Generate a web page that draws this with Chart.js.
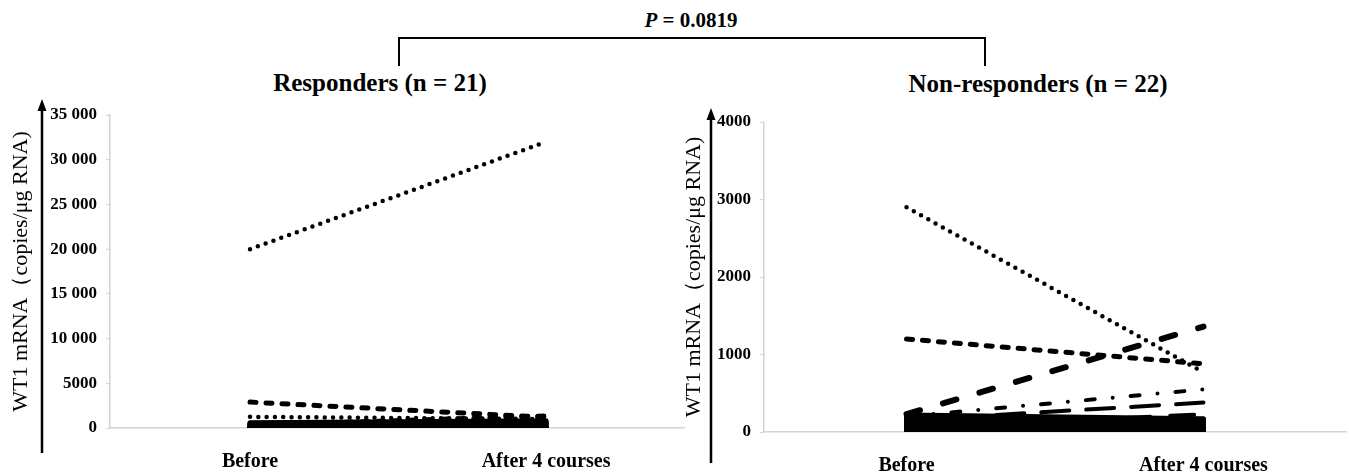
<!DOCTYPE html>
<html>
<head>
<meta charset="utf-8">
<script src="https://cdn.jsdelivr.net/npm/chart.js@4.4.1/dist/chart.umd.min.js"></script>
<style>
  html, body { margin: 0; padding: 0; background: #fff; }
  body { width: 1349px; height: 474px; position: relative; overflow: hidden; font-family: "Liberation Serif", "Times New Roman", serif; }
  canvas { position: absolute; top: 0; }
  #leftChart { left: 0; }
  #rightChart { left: 670px; }
  .title { position: absolute; font-weight: bold; font-size: 25px; white-space: nowrap; transform: translate(-50%, -50%); color: #000; }
  #bracket { position: absolute; left: 398px; top: 37px; width: 584px; height: 27px; border: 2px solid #000; border-bottom: none; }
  #pval { position: absolute; left: 691px; top: 20px; font-weight: bold; font-size: 21px; white-space: nowrap; transform: translate(-50%, -50%); }
</style>
</head>
<body>
<div id="pval"><i>P</i> = 0.0819</div>
<div id="bracket"></div>
<div class="title" style="left:380px; top:83px;">Responders (n = 21)</div>
<div class="title" style="left:1038px; top:84px;">Non-responders (n = 22)</div>
<canvas id="leftChart" width="700" height="474"></canvas>
<canvas id="rightChart" width="679" height="474"></canvas>
<script>
// 时间点
const categories = ['Before', 'After 4 courses'];
const yTitle = 'WT1 mRNA（copies/μg RNA)';

// Responders (n = 21)
const respBefore = [20000, 2900, 1250, 300, 600, 500, 450, 400, 350, 300, 250, 200, 180, 150, 120, 100, 80, 60, 40, 20, 10];
const respAfter  = [32000, 1200, 1000, 1350, 800, 700, 650, 600, 500, 450, 400, 300, 250, 200, 150, 100, 80, 50, 30, 20, 10];
const respStyle  = ['dot', 'dash', 'dot', 'dash', 'solid', 'solid', 'solid', 'solid', 'solid', 'solid', 'solid', 'solid',
                    'solid', 'solid', 'solid', 'solid', 'solid', 'solid', 'solid', 'solid', 'solid'];
const respTicks = [0, 5000, 10000, 15000, 20000, 25000, 30000, 35000];

// Non-responders (n = 22)
const nonBefore = [2900, 1200, 230, 200, 150, 40, 220, 200, 180, 160, 150, 130, 120, 100, 90, 80, 60, 50, 40, 30, 20, 10];
const nonAfter  = [770, 880, 1360, 550, 380, 230, 170, 150, 140, 130, 120, 110, 100, 90, 80, 70, 60, 50, 40, 30, 20, 10];
const nonStyle  = ['dot', 'dash', 'longdash', 'dashdot', 'longdash2', 'shortdash', 'solid', 'solid', 'solid', 'solid', 'solid',
                   'solid', 'solid', 'solid', 'solid', 'solid', 'solid', 'solid', 'solid', 'solid', 'solid', 'solid'];
const nonTicks = [0, 1000, 2000, 3000, 4000];

// 线型
const lineStyles = {
  dot:       { width: 4.5, dash: [0, 8.3] },
  dash:      { width: 5, dash: [6, 10] },
  longdash:  { width: 6, dash: [14, 24] },
  dashdot:   { width: 4, dash: [9, 18, 0, 18] },
  longdash2: { width: 4, dash: [28, 17] },
  shortdash: { width: 4, dash: [24, 20] },
  solid:     { width: 5, dash: [] }
};

function buildDatasets(before, after, styles) {
  return before.map((b, i) => {
    const st = lineStyles[styles[i]];
    return {
      data: [{ x: 0, y: b }, { x: 1, y: after[i] }],
      borderColor: '#000',
      borderWidth: st.width,
      borderDash: st.dash,
      borderCapStyle: 'round',
      pointRadius: 0,
      fill: false
    };
  });
}

// 黑色箭头坐标轴
const arrowPlugin = {
  id: 'arrowAxis',
  afterDraw(chart, args, opts) {
    const ctx = chart.ctx;
    const area = chart.chartArea;
    const x = opts.x;
    const top = area.top - opts.above;
    const bottom = area.bottom + opts.below;
    ctx.save();
    ctx.strokeStyle = '#000';
    ctx.fillStyle = '#000';
    ctx.lineWidth = 2.5;
    ctx.beginPath();
    ctx.moveTo(x, bottom);
    ctx.lineTo(x, top + 8);
    ctx.stroke();
    ctx.beginPath();
    ctx.moveTo(x, top);
    ctx.lineTo(x - 4.5, top + 12);
    ctx.lineTo(x + 4.5, top + 12);
    ctx.closePath();
    ctx.fill();
    ctx.restore();
  }
};

function makeChart(id, cfg) {
  new Chart(document.getElementById(id), {
    type: 'line',
    data: { datasets: buildDatasets(cfg.before, cfg.after, cfg.styles) },
    plugins: [arrowPlugin],
    options: {
      responsive: false,
      animation: false,
      layout: { padding: { left: 0, right: cfg.padRight, top: cfg.padTop, bottom: 0 } },
      plugins: {
        legend: { display: false },
        tooltip: { enabled: false },
        arrowAxis: { x: cfg.arrowX, above: cfg.arrowAbove, below: cfg.arrowBelow }
      },
      scales: {
        x: {
          type: 'linear',
          min: cfg.xMin,
          max: cfg.xMax,
          afterBuildTicks: (scale) => { scale.ticks = categories.map((c, i) => ({ value: i })); },
          afterFit: (scale) => { scale.height = cfg.xHeight; },
          grid: { display: false },
          border: { display: true, color: '#d4d4d4', width: 1.5 },
          ticks: {
            padding: 14,
            color: '#000',
            font: { family: 'Liberation Serif', size: 20, weight: 'bold' },
            callback: (v) => categories[v]
          }
        },
        y: {
          min: cfg.ticks[0],
          max: cfg.ticks[cfg.ticks.length - 1],
          afterBuildTicks: (scale) => { scale.ticks = cfg.ticks.map(v => ({ value: v })); },
          afterFit: (scale) => { scale.width = cfg.yWidth; },
          grid: { drawOnChartArea: false, drawTicks: true, tickLength: 4, color: '#d4d4d4' },
          border: { display: true, color: '#d4d4d4', width: 1.5 },
          title: {
            display: true,
            text: yTitle,
            color: '#000',
            padding: { top: cfg.titlePad, bottom: 0 },
            font: { family: 'Liberation Serif', size: 22, weight: 'normal' }
          },
          ticks: {
            padding: 9,
            color: '#000',
            font: { family: 'Liberation Serif', size: 17, weight: 'bold' },
            callback: (v) => v >= 10000 ? String(v).replace(/\B(?=(\d{3})+(?!\d))/g, ' ') : String(v)
          }
        }
      }
    }
  });
}

makeChart('leftChart', {
  before: respBefore, after: respAfter, styles: respStyle, ticks: respTicks,
  xMin: -0.473, xMax: 1.466, padRight: 16, padTop: 115, xHeight: 46, yWidth: 110,
  titlePad: 8, arrowX: 42, arrowAbove: 16, arrowBelow: 25
});

makeChart('rightChart', {
  before: nonBefore, after: nonAfter, styles: nonStyle, ticks: nonTicks,
  xMin: -0.48, xMax: 1.48, padRight: 3, padTop: 122, xHeight: 42, yWidth: 94,
  titlePad: 11, arrowX: 41, arrowAbove: 14, arrowBelow: 31
});
</script>
</body>
</html>
